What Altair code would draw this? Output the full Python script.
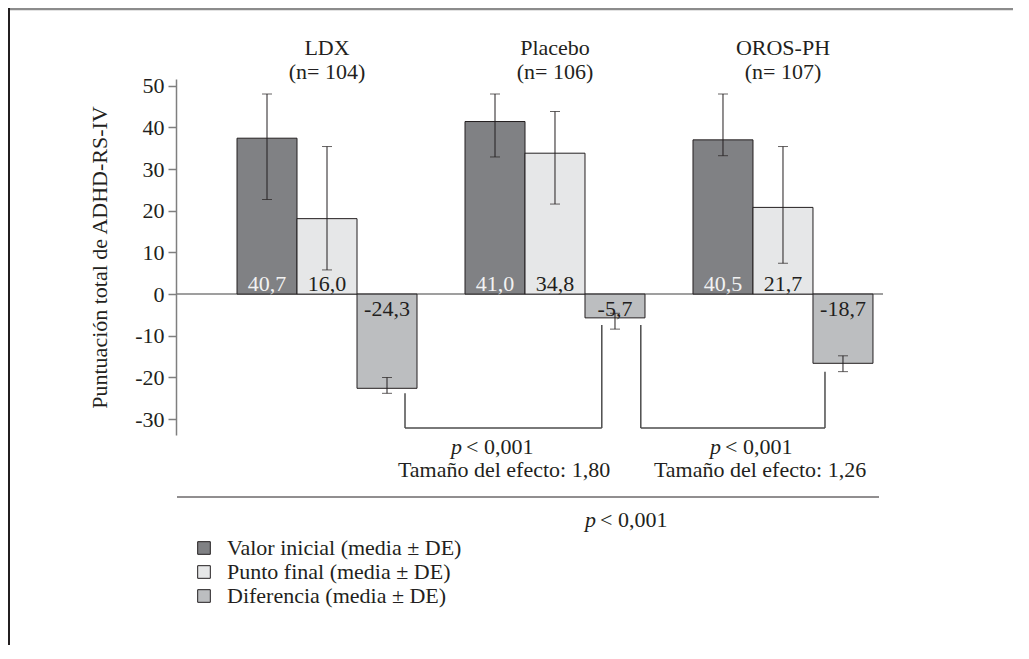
import altair as alt
import pandas as pd

# ---------------- data ----------------
groups = ["LDX", "Placebo", "OROS-PH"]
n_labels = ["(n= 104)", "(n= 106)", "(n= 107)"]
series = ["Valor inicial (media ± DE)", "Punto final (media ± DE)", "Diferencia (media ± DE)"]

baseline_val = [37.4, 41.4, 37.0]
endpoint_val = [18.1, 33.8, 20.8]
diff_val = [-22.6, -5.7, -16.6]

baseline_hi = [48.0, 48.0, 48.0]
endpoint_hi = [35.4, 43.8, 35.4]
diff_hi = [-20.0, -4.6, -14.8]

baseline_lo = [22.7, 32.9, 33.2]
endpoint_lo = [5.8, 21.6, 7.4]
diff_lo = [-23.8, -8.4, -18.6]

baseline_lbl = ["40,7", "41,0", "40,5"]
endpoint_lbl = ["16,0", "34,8", "21,7"]
diff_lbl = ["-24,3", "-5,7", "-18,7"]

p_text = "< 0,001"
effect_texts = ["Tamaño del efecto: 1,80", "Tamaño del efecto: 1,26"]
y_ticks = [-30, -20, -10, 0, 10, 20, 30, 40, 50]

# ---------------- styling / layout ----------------
FONT = "Liberation Serif"
FS = 22
INK = "#231f20"
GRAY = "#7f7f7f"
fills = ["#808184", "#e6e7e8", "#bcbec0"]
label_colors = ["#f2f2f2", INK, INK]
GROUP_STEP = 3.8          # distance between group centres, in bar widths
W, H = 707, 356
X_DOMAIN = [-2.517, 9.267]
Y_DOMAIN = [-33.8, 51.6]

vals = [baseline_val, endpoint_val, diff_val]
his = [baseline_hi, endpoint_hi, diff_hi]
los = [baseline_lo, endpoint_lo, diff_lo]
lbls = [baseline_lbl, endpoint_lbl, diff_lbl]

rows = []
for i, g in enumerate(groups):
    gc = i * GROUP_STEP
    for k, s in enumerate(series):
        c = gc + (k - 1)
        rows.append(dict(grupo=g, serie=s, x0=c - 0.5, x1=c + 0.5, xc=c,
                         value=vals[k][i], lo=los[k][i], hi=his[k][i],
                         label=lbls[k][i], tcol=label_colors[k], k=k))
bars = pd.DataFrame(rows)
gdf = pd.DataFrame(dict(grupo=groups, n=n_labels, gc=[i * GROUP_STEP for i in range(len(groups))]))

xs = alt.Scale(domain=X_DOMAIN, nice=False, zero=False)
ys = alt.Scale(domain=Y_DOMAIN, nice=False, zero=False)

base = alt.Chart(bars)

zero = alt.Chart(pd.DataFrame({"y": [0]})).mark_rule(color=GRAY, strokeWidth=1.5).encode(
    y=alt.Y("y:Q", scale=ys))

bar_layer = base.mark_bar(stroke=INK, strokeWidth=1).encode(
    x=alt.X("x0:Q", scale=xs, axis=None),
    x2="x1:Q",
    y=alt.Y("value:Q", scale=ys, axis=alt.Axis(
        values=y_ticks, labelExpr="datum.value + ''", grid=False,
        domainColor=GRAY, domainWidth=1.5, tickColor=GRAY, tickWidth=1.5, tickSize=8,
        labelFont=FONT, labelFontSize=FS, labelColor=INK, labelPadding=4,
        title="Puntuación total de ADHD-RS-IV", titleFont=FONT, titleFontSize=FS,
        titleFontWeight="normal", titleColor=INK, titleX=-77, titleY=178,
        titleAlign="center", titleBaseline="middle", titleAngle=270)),
    y2=alt.datum(0),
    fill=alt.Fill("serie:N", scale=alt.Scale(domain=series, range=fills), legend=alt.Legend(
        orient="none", legendX=17, legendY=458, title=None, symbolType="square",
        symbolSize=160, symbolStrokeColor=INK, symbolStrokeWidth=1,
        labelFont=FONT, labelFontSize=FS, labelColor=INK, labelOffset=12, labelLimit=0,
        rowPadding=2, padding=0)),
)

err = base.mark_rule(color=INK, strokeWidth=1).encode(
    x=alt.X("xc:Q", scale=xs), y=alt.Y("lo:Q", scale=ys), y2="hi:Q")

caps = base.transform_fold(["lo", "hi"], as_=["end", "ev"]).mark_tick(
    orient="horizontal", size=10, thickness=1, color=INK).encode(
    x=alt.X("xc:Q", scale=xs), y=alt.Y("ev:Q", scale=ys))

pos_lbl = base.transform_filter("datum.k < 2").mark_text(
    font=FONT, fontSize=FS, baseline="alphabetic", align="center", dy=-3).encode(
    x=alt.X("xc:Q", scale=xs), y=alt.datum(0), text="label:N", color=alt.Color("tcol:N", scale=None))

neg_lbl = base.transform_filter("datum.k == 2").mark_text(
    font=FONT, fontSize=FS, baseline="alphabetic", align="center", dy=22).encode(
    x=alt.X("xc:Q", scale=xs), y=alt.datum(0), text="label:N", color=alt.Color("tcol:N", scale=None))

gname = alt.Chart(gdf).mark_text(font=FONT, fontSize=FS, color=INK, baseline="middle").encode(
    x=alt.X("gc:Q", scale=xs), y=alt.value(-31), text="grupo:N")
gn = alt.Chart(gdf).mark_text(font=FONT, fontSize=FS, color=INK, baseline="middle").encode(
    x=alt.X("gc:Q", scale=xs), y=alt.value(-7), text="n:N")

# comparison brackets (annotation geometry)
BR_BOTTOM = 349
brk = pd.DataFrame(dict(b=[0, 1], xa=[1.3, 5.23], xb=[4.58, 8.3],
                        ya=[diff_lo[0], -7.4], yb=[-7.4, diff_lo[2]]))
brk_a = alt.Chart(brk).mark_rule(color="#4d4d4d", strokeWidth=1.5).encode(
    x=alt.X("xa:Q", scale=xs), y=alt.Y("ya:Q", scale=ys), y2=alt.value(BR_BOTTOM))
brk_b = alt.Chart(brk).mark_rule(color="#4d4d4d", strokeWidth=1.5).encode(
    x=alt.X("xb:Q", scale=xs), y=alt.Y("yb:Q", scale=ys), y2=alt.value(BR_BOTTOM))
brk_h = alt.Chart(brk).mark_rule(color="#4d4d4d", strokeWidth=1.5).encode(
    x=alt.X("xa:Q", scale=xs), x2="xb:Q", y=alt.value(BR_BOTTOM))

ann = pd.DataFrame(dict(px=[322.0, 581.0, 456.0], py=[368, 368, 441]))
p_it = alt.Chart(ann).mark_text(font=FONT, fontSize=FS, fontStyle="italic", color=INK,
                                align="right", baseline="middle", dx=-36).encode(
    x=alt.X("px:Q", scale=None), y=alt.Y("py:Q", scale=None), text=alt.value("p"))
p_rest = alt.Chart(ann).mark_text(font=FONT, fontSize=FS, color=INK,
                                  align="left", baseline="middle", dx=-32).encode(
    x=alt.X("px:Q", scale=None), y=alt.Y("py:Q", scale=None), text=alt.value(p_text))

eff = alt.Chart(pd.DataFrame(dict(t=effect_texts, px=[328.0, 584.0]))).mark_text(
    font=FONT, fontSize=FS, color=INK, align="center", baseline="middle").encode(
    x=alt.X("px:Q", scale=None), y=alt.value(391), text="t:N")

sep = alt.Chart(pd.DataFrame({"a": [0]})).mark_rule(color=INK, strokeWidth=1).encode(
    x=alt.value(1), x2=alt.value(703), y=alt.value(418))

frame_top = alt.Chart(pd.DataFrame({"a": [0]})).mark_rule(color="#8c8c8c", strokeWidth=2.5).encode(
    x=alt.value(-168), x2=alt.value(850), y=alt.value(-70))
frame_left = alt.Chart(pd.DataFrame({"a": [0]})).mark_rule(color=INK, strokeWidth=2).encode(
    x=alt.value(-167), y=alt.value(-71), y2=alt.value(580))

chart = alt.layer(
    zero, bar_layer, err, caps, pos_lbl, neg_lbl, gname, gn,
    brk_a, brk_b, brk_h, p_it, p_rest, eff, sep, frame_top, frame_left
).properties(
    width=W, height=H,
    padding={"left": 168, "top": 71, "right": 130, "bottom": 210},
    autosize=alt.AutoSizeParams(type="none"),
).configure_view(strokeWidth=0)

chart.save("out.html", embed_options={"renderer": "svg", "actions": False})
